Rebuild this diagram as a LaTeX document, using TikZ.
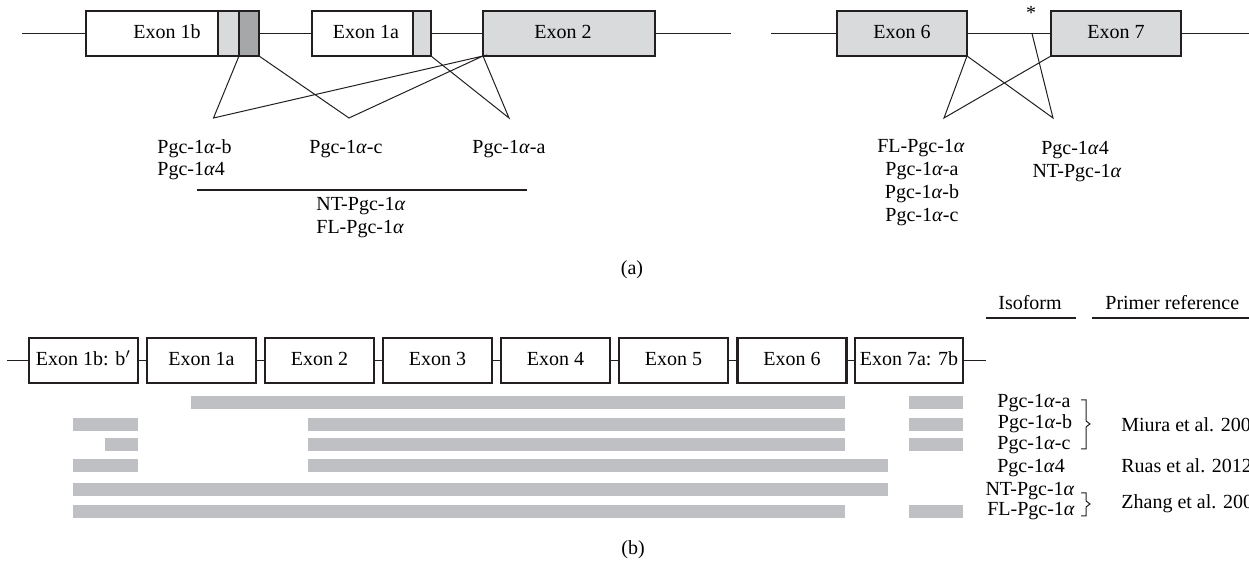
\documentclass[tikz,border=0pt]{standalone}
\usepackage{fontspec}
\setmainfont{Liberation Serif}
\definecolor{ink}{HTML}{231F20}
\definecolor{exgray}{HTML}{D9DADB}
\definecolor{exdark}{HTML}{A6A7A9}
\definecolor{bargray}{HTML}{BFC0C3}
\newcommand{\al}{\textit{α}}
\begin{document}
\begin{tikzpicture}[x=0.5pt,y=-0.5pt,
  font=\fontsize{10pt}{11pt}\selectfont,
  exon/.style={draw=ink, line width=1.3pt, inner sep=0pt, outer sep=0pt,
    minimum height=22.5pt, text height=0.7em, text depth=0.2em},
  intron/.style={draw=ink, line width=0.6pt},
  splice/.style={draw=ink, line width=0.5pt},
  divider/.style={draw=ink, line width=0.8pt},
  lbl/.style={inner sep=0pt, text height=0.7em, text depth=0.2em},
  bar/.style={fill=bargray},
  brk/.style={draw=ink, line width=0.5pt}]
\useasboundingbox (0,0) rectangle (1249,565);
\clip (0,0) rectangle (1249,565);

% ---------- (a) gene structure, exons 1b-2 ----------
\fill[exgray] (218,11) rectangle (239,56);
\fill[exdark] (239,11) rectangle (259,56);
\fill[exgray] (413,11) rectangle (431,56);
\node[exon, minimum width=86.5pt] (e1b) at (172.5,33.5) {};
\node[exon, minimum width=59.5pt] (e1a) at (371.5,33.5) {};
\node[exon, fill=exgray, minimum width=86pt] (e2) at (569,33.5) {};
\draw[divider] (218,11) -- (218,56);
\draw[divider] (239,11) -- (239,56);
\draw[divider] (413,11) -- (413,56);
\node[lbl] (t1b) at (167,33.5) {Exon 1b};
\node[lbl] (t1a) at (366,33.5) {Exon 1a};
\node[lbl] (t2) at (563,33.5) {Exon 2};

\coordinate (la) at (22,33.5);
\coordinate (lb) at (731,33.5);
\draw[intron] (la) -- (e1b.west);
\draw[intron] (e1b.east) -- (e1a.west);
\draw[intron] (e1a.east) -- (e2.west);
\draw[intron] (e2.east) -- (lb);

% splice junctions of the first exons
\coordinate (s1b) at (239,56);
\coordinate (pb) at (213.5,118);
\coordinate (pc) at (349,118);
\coordinate (pa) at (509,118);
\draw[splice] (s1b) -- (pb) -- (e2.south west) -- (pc) -- (e1b.south east);
\draw[splice] (e1a.south east) -- (pa) -- (e2.south west);

\node[lbl, anchor=west] (nb) at (157,149) {Pgc-1\al-b};
\node[lbl, anchor=west] (n4) at (157,171) {Pgc-1\al4};
\node[lbl] (nc) at (346,149) {Pgc-1\al-c};
\node[lbl] (na) at (509,149) {Pgc-1\al-a};
\coordinate (ua) at (197,190);
\coordinate (ub) at (527,190);
\draw[intron] (ua) -- (ub);
\node[lbl, anchor=west] (nnt) at (316,206) {NT-Pgc-1\al};
\node[lbl, anchor=west] (nfl) at (316,229) {FL-Pgc-1\al};

% ---------- (a) gene structure, exons 6-7 ----------
\node[exon, fill=exgray, minimum width=65pt] (e6) at (902,33.5) {Exon 6};
\node[exon, fill=exgray, minimum width=65pt] (e7) at (1116,33.5) {Exon 7};
\coordinate (lc) at (771,33.5);
\coordinate (ld) at (1249,33.5);
\draw[intron] (lc) -- (e6.west);
\draw[intron] (e6.east) -- (e7.west);
\draw[intron] (e7.east) -- (ld);
\coordinate (star) at (1032,33.5);
\node[inner sep=0pt] (ast) at (1031,13) {*};
\coordinate (pfl) at (944,118);
\coordinate (p4) at (1053,118);
\draw[splice] (e6.south east) -- (pfl) -- (e7.south west);
\draw[splice] (e6.south east) -- (p4) -- (star);

\node[lbl] (rfl) at (921,148) {FL-Pgc-1\al};
\node[lbl] (ra) at (922,171) {Pgc-1\al-a};
\node[lbl] (rb) at (922,194) {Pgc-1\al-b};
\node[lbl] (rc) at (922,217) {Pgc-1\al-c};
\node[lbl] (r4) at (1075,150) {Pgc-1\al4};
\node[lbl] (rnt) at (1077,173) {NT-Pgc-1\al};

\node[lbl] (capa) at (632,270) {(a)};

% ---------- (b) transcript map ----------
\node[exon, minimum width=54.5pt] (b1) at (83.5,360.5) {Exon 1b: b$'$};
\node[exon, minimum width=54.5pt] (b2) at (201.5,360.5) {Exon 1a};
\node[exon, minimum width=54.5pt] (b3) at (319.5,360.5) {Exon 2};
\node[exon, minimum width=54.5pt] (b4) at (437.5,360.5) {Exon 3};
\node[exon, minimum width=54.5pt] (b5) at (555.5,360.5) {Exon 4};
\node[exon, minimum width=54.5pt] (b6) at (673.5,360.5) {Exon 5};
\node[exon, minimum width=54.5pt] (b7) at (792,360.5) {Exon 6};
\node[exon, minimum width=54pt] (b8) at (909,360.5) {Exon 7a: 7b};
\coordinate (le) at (7,360.5);
\coordinate (lf) at (986,360.5);
\draw[intron] (le) -- (b1.west);
\draw[intron] (b1.east) -- (b2.west);
\draw[intron] (b2.east) -- (b3.west);
\draw[intron] (b3.east) -- (b4.west);
\draw[intron] (b4.east) -- (b5.west);
\draw[intron] (b5.east) -- (b6.west);
\draw[intron] (b6.east) -- (b7.west);
\draw[intron] (b7.east) -- (b8.west);
\draw[intron] (b8.east) -- (lf);

% transcript bars
\fill[bar] (191,396) rectangle (845,409);
\fill[bar] (909,396) rectangle (963,409);
\fill[bar] (73,418) rectangle (138,431);
\fill[bar] (308,418) rectangle (845,431);
\fill[bar] (909,418) rectangle (963,431);
\fill[bar] (105,438) rectangle (138,451);
\fill[bar] (308,438) rectangle (845,451);
\fill[bar] (909,438) rectangle (963,451);
\fill[bar] (73,459) rectangle (138,472);
\fill[bar] (308,459) rectangle (888,472);
\fill[bar] (73,483) rectangle (888,496);
\fill[bar] (73,505) rectangle (845,518);
\fill[bar] (909,505) rectangle (963,518);

% table headers
\node[lbl] (hiso) at (1030,305) {Isoform};
\draw[intron] (986,318) -- (1076,318);
\node[lbl, anchor=west] (hprim) at (1105,305) {Primer reference};
\draw[intron] (1092,318) -- (1249,318);

% isoform names
\node[lbl] (ia) at (1034,403) {Pgc-1\al-a};
\node[lbl] (ib) at (1035,424) {Pgc-1\al-b};
\node[lbl] (ic) at (1034,445) {Pgc-1\al-c};
\node[lbl] (i4) at (1031,468) {Pgc-1\al4};
\node[lbl] (int) at (1030,491) {NT-Pgc-1\al};
\node[lbl] (ifl) at (1031,511) {FL-Pgc-1\al};

% grouping brackets
\draw[brk] (1081,400) -- (1086,400) -- (1086,421) -- (1090,424) -- (1086,427) -- (1086,449) -- (1081,449);
\draw[brk] (1081,493) -- (1086,493) -- (1086,501) -- (1090,504) -- (1086,507) -- (1086,516) -- (1081,516);

% references
\node[lbl, anchor=west] (rm) at (1121,427) {Miura et al. 2008};
\node[lbl, anchor=west] (rr) at (1121,468) {Ruas et al. 2012};
\node[lbl, anchor=west] (rz) at (1121,504) {Zhang et al. 2009};

\node[lbl] (capb) at (633,550) {(b)};
\end{tikzpicture}
\end{document}
